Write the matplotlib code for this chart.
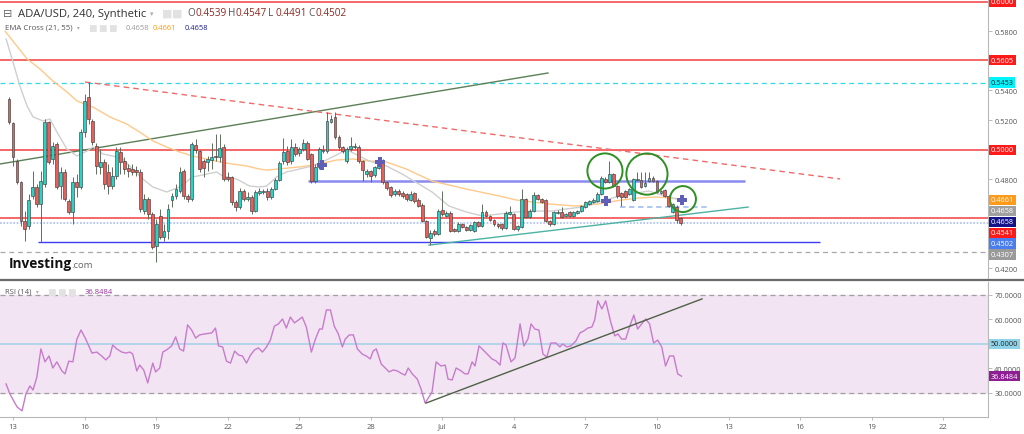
import matplotlib
matplotlib.use("Agg")
import matplotlib.pyplot as plt
import numpy as np

plt.rcParams['font.family'] = ['Open Sans', 'DejaVu Sans']

# ADA/USD 4h candles, first one 12 Jun 20:00 (x axis = days from 13 Jun)
opens = [0.5342, 0.5180, 0.4923, 0.4781, 0.4518, 0.4484, 0.4687, 0.4748, 0.4633, 0.4768,
         0.5187, 0.4937, 0.5038, 0.4754, 0.4849, 0.4653, 0.4579, 0.4781, 0.4748, 0.5119,
         0.5356, 0.5194, 0.5025, 0.4883, 0.4917, 0.4849, 0.4754, 0.4822, 0.4984, 0.4923,
         0.4876, 0.4869, 0.4862, 0.4849, 0.4585, 0.4666, 0.4565, 0.4349, 0.4552, 0.4410,
         0.4450, 0.4660, 0.4687, 0.4721, 0.4856, 0.4687, 0.4666, 0.5031, 0.4991, 0.4923,
         0.4917, 0.4930, 0.4957, 0.4950, 0.5018, 0.4815, 0.4815, 0.4646, 0.4612, 0.4721,
         0.4666, 0.4680, 0.4585, 0.4707, 0.4714, 0.4721, 0.4680, 0.4734, 0.4795, 0.4923,
         0.4991, 0.4923, 0.5018, 0.4977, 0.5004, 0.5045, 0.4971, 0.4788, 0.4883, 0.4991,
         0.4991, 0.5187, 0.5221, 0.5086, 0.5018, 0.4923, 0.5004, 0.5018, 0.5018, 0.4923,
         0.4835, 0.4856, 0.4829, 0.4876, 0.4910, 0.4781, 0.4748, 0.4700, 0.4721, 0.4707,
         0.4700, 0.4660, 0.4707, 0.4660, 0.4626, 0.4518, 0.4403, 0.4450, 0.4430, 0.4592,
         0.4552, 0.4572, 0.4464, 0.4450, 0.4497, 0.4477, 0.4457, 0.4450, 0.4511, 0.4484,
         0.4579, 0.4552, 0.4524, 0.4497, 0.4497, 0.4470, 0.4565, 0.4565, 0.4464, 0.4477,
         0.4666, 0.4545, 0.4585, 0.4693, 0.4666, 0.4660, 0.4518, 0.4497, 0.4572, 0.4579,
         0.4552, 0.4579, 0.4552, 0.4572, 0.4585, 0.4612, 0.4633, 0.4646, 0.4653, 0.4700,
         0.4802, 0.4781, 0.4835, 0.4754, 0.4707, 0.4721, 0.4700, 0.4660, 0.4795, 0.4795,
         0.4754, 0.4788, 0.4808, 0.4788, 0.4707, 0.4727, 0.4687, 0.4579, 0.4612, 0.4539]
highs = [0.5356, 0.5187, 0.4937, 0.4788, 0.4585, 0.4700, 0.4856, 0.4768, 0.4856, 0.5207,
         0.5194, 0.5052, 0.5052, 0.4883, 0.4869, 0.4666, 0.4815, 0.4835, 0.5140, 0.5376,
         0.5457, 0.5207, 0.5045, 0.5004, 0.4937, 0.4903, 0.4883, 0.5018, 0.5018, 0.4950,
         0.4903, 0.4903, 0.4890, 0.4869, 0.4700, 0.4680, 0.4579, 0.4531, 0.4599, 0.4497,
         0.4633, 0.4707, 0.4768, 0.4883, 0.4869, 0.4700, 0.5052, 0.5072, 0.4998, 0.4937,
         0.4957, 0.5045, 0.5106, 0.5106, 0.5038, 0.4849, 0.4822, 0.4660, 0.4741, 0.4734,
         0.4714, 0.4693, 0.4727, 0.4741, 0.4734, 0.4741, 0.4748, 0.4808, 0.4923, 0.5079,
         0.5025, 0.5072, 0.5045, 0.5018, 0.5072, 0.5059, 0.4977, 0.4903, 0.5018, 0.5031,
         0.5255, 0.5234, 0.5255, 0.5099, 0.5025, 0.5018, 0.5086, 0.5045, 0.5031, 0.4930,
         0.4869, 0.4862, 0.4890, 0.4917, 0.4937, 0.4788, 0.4754, 0.4734, 0.4734, 0.4721,
         0.4707, 0.4721, 0.4714, 0.4673, 0.4639, 0.4524, 0.4457, 0.4464, 0.4599, 0.4721,
         0.4585, 0.4585, 0.4470, 0.4511, 0.4504, 0.4484, 0.4497, 0.4518, 0.4518, 0.4633,
         0.4592, 0.4559, 0.4531, 0.4504, 0.4504, 0.4585, 0.4619, 0.4572, 0.4491, 0.4734,
         0.4673, 0.4599, 0.4714, 0.4700, 0.4673, 0.4666, 0.4524, 0.4585, 0.4592, 0.4612,
         0.4572, 0.4585, 0.4585, 0.4592, 0.4626, 0.4653, 0.4660, 0.4673, 0.4714, 0.4822,
         0.4815, 0.4923, 0.4842, 0.4761, 0.4714, 0.4727, 0.4741, 0.4808, 0.4849, 0.4849,
         0.4849, 0.4849, 0.4822, 0.4795, 0.4727, 0.4734, 0.4693, 0.4640, 0.4626, 0.4547]
lows = [0.5173, 0.4890, 0.4768, 0.4484, 0.4383, 0.4464, 0.4666, 0.4612, 0.4376, 0.4748,
        0.4903, 0.4903, 0.4734, 0.4666, 0.4653, 0.4565, 0.4497, 0.4680, 0.4734, 0.5086,
        0.5173, 0.5031, 0.4835, 0.4835, 0.4734, 0.4700, 0.4734, 0.4802, 0.4835, 0.4835,
        0.4815, 0.4829, 0.4822, 0.4579, 0.4565, 0.4531, 0.4328, 0.4241, 0.4396, 0.4383,
        0.4396, 0.4612, 0.4666, 0.4707, 0.4666, 0.4646, 0.4653, 0.4977, 0.4849, 0.4815,
        0.4856, 0.4869, 0.4923, 0.4917, 0.4788, 0.4788, 0.4626, 0.4585, 0.4599, 0.4653,
        0.4653, 0.4565, 0.4579, 0.4693, 0.4700, 0.4660, 0.4666, 0.4727, 0.4788, 0.4903,
        0.4897, 0.4903, 0.4957, 0.4957, 0.4991, 0.4930, 0.4775, 0.4775, 0.4869, 0.4977,
        0.4977, 0.5180, 0.5072, 0.4998, 0.4977, 0.4910, 0.4991, 0.5004, 0.4910, 0.4788,
        0.4815, 0.4781, 0.4815, 0.4869, 0.4768, 0.4727, 0.4680, 0.4687, 0.4687, 0.4673,
        0.4653, 0.4653, 0.4639, 0.4612, 0.4511, 0.4403, 0.4355, 0.4416, 0.4423, 0.4552,
        0.4545, 0.4443, 0.4443, 0.4443, 0.4470, 0.4450, 0.4450, 0.4443, 0.4477, 0.4477,
        0.4545, 0.4518, 0.4484, 0.4470, 0.4457, 0.4464, 0.4559, 0.4457, 0.4450, 0.4470,
        0.4538, 0.4538, 0.4579, 0.4660, 0.4639, 0.4511, 0.4484, 0.4491, 0.4565, 0.4538,
        0.4545, 0.4545, 0.4545, 0.4565, 0.4579, 0.4606, 0.4626, 0.4639, 0.4646, 0.4693,
        0.4775, 0.4775, 0.4748, 0.4673, 0.4619, 0.4673, 0.4693, 0.4653, 0.4788, 0.4741,
        0.4748, 0.4781, 0.4781, 0.4707, 0.4700, 0.4680, 0.4612, 0.4572, 0.4504, 0.4491]
closes = [0.5187, 0.4950, 0.4781, 0.4518, 0.4464, 0.4660, 0.4748, 0.4633, 0.4788, 0.5187,
          0.4917, 0.5025, 0.4748, 0.4849, 0.4666, 0.4579, 0.4781, 0.4748, 0.5119, 0.5329,
          0.5207, 0.5052, 0.4890, 0.4917, 0.4768, 0.4754, 0.4822, 0.4991, 0.4917, 0.4869,
          0.4856, 0.4849, 0.4849, 0.4599, 0.4666, 0.4565, 0.4342, 0.4497, 0.4410, 0.4450,
          0.4599, 0.4687, 0.4734, 0.4849, 0.4687, 0.4666, 0.5038, 0.4998, 0.4869, 0.4876,
          0.4937, 0.4950, 0.4950, 0.5011, 0.4802, 0.4802, 0.4646, 0.4612, 0.4721, 0.4666,
          0.4680, 0.4585, 0.4714, 0.4721, 0.4721, 0.4680, 0.4734, 0.4795, 0.4910, 0.4984,
          0.4917, 0.5018, 0.4971, 0.5004, 0.5045, 0.4937, 0.4788, 0.4883, 0.5004, 0.4998,
          0.5194, 0.5207, 0.5086, 0.5018, 0.4991, 0.5004, 0.5025, 0.5025, 0.4923, 0.4862,
          0.4856, 0.4822, 0.4883, 0.4903, 0.4781, 0.4741, 0.4693, 0.4721, 0.4700, 0.4687,
          0.4666, 0.4700, 0.4653, 0.4619, 0.4518, 0.4410, 0.4437, 0.4430, 0.4585, 0.4565,
          0.4572, 0.4450, 0.4450, 0.4497, 0.4477, 0.4457, 0.4491, 0.4511, 0.4484, 0.4579,
          0.4552, 0.4524, 0.4497, 0.4484, 0.4470, 0.4572, 0.4579, 0.4464, 0.4484, 0.4666,
          0.4545, 0.4585, 0.4693, 0.4666, 0.4646, 0.4518, 0.4497, 0.4579, 0.4579, 0.4545,
          0.4565, 0.4552, 0.4579, 0.4585, 0.4619, 0.4646, 0.4653, 0.4660, 0.4700, 0.4808,
          0.4781, 0.4835, 0.4754, 0.4687, 0.4680, 0.4680, 0.4734, 0.4802, 0.4802, 0.4748,
          0.4775, 0.4808, 0.4788, 0.4714, 0.4721, 0.4687, 0.4619, 0.4633, 0.4524, 0.4502]

# EMA cross (21, 55)
ema21_t = [-0.29, -0.04, 0.29, 0.59, 0.84, 1.26, 1.55, 1.84, 2.26, 2.68, 3.10, 3.35, 3.77,
           4.18, 4.60, 5.02, 5.44, 5.86, 6.44, 6.99, 7.53, 8.12, 8.54, 8.79, 9.37, 9.92,
           10.33, 10.63, 11.05, 11.46, 12.01, 12.55, 12.97, 13.39, 13.81, 14.10, 14.52,
           14.94, 15.65, 16.32, 17.57, 18.28, 19.00, 19.67, 20.38, 21.09, 21.76, 22.59,
           23.18, 23.85, 24.56, 25.27, 25.94, 26.65, 27.07, 27.62, 28.03]
ema21 = [0.5748, 0.5613, 0.5430, 0.5295, 0.5221, 0.5194, 0.5207, 0.5119, 0.5004, 0.4957,
         0.4991, 0.5018, 0.4971, 0.4957, 0.4937, 0.4869, 0.4802, 0.4748, 0.4714, 0.4748,
         0.4815, 0.4835, 0.4849, 0.4822, 0.4802, 0.4754, 0.4748, 0.4754, 0.4815, 0.4849,
         0.4869, 0.4890, 0.4917, 0.4950, 0.4984, 0.4991, 0.4957, 0.4923, 0.4890, 0.4835,
         0.4714, 0.4619, 0.4579, 0.4552, 0.4565, 0.4579, 0.4585, 0.4585, 0.4599, 0.4612,
         0.4646, 0.4680, 0.4700, 0.4721, 0.4700, 0.4673, 0.4660]
ema55_t = [-0.33, 0.59, 1.13, 1.67, 2.26, 2.68, 3.35, 4.06, 4.77, 5.31, 5.86, 6.44, 6.99,
           7.53, 8.12, 8.66, 9.21, 9.79, 10.33, 10.63, 12.01, 12.85, 13.56, 14.23, 14.94,
           15.65, 16.49, 17.57, 19.00, 20.38, 21.09, 22.47, 23.60, 24.56, 25.52, 26.23,
           26.95, 27.62, 28.03]
ema55 = [0.5800, 0.5613, 0.5545, 0.5464, 0.5390, 0.5329, 0.5288, 0.5221, 0.5173, 0.5119,
         0.5059, 0.5018, 0.4984, 0.4957, 0.4937, 0.4917, 0.4903, 0.4890, 0.4869, 0.4862,
         0.4883, 0.4903, 0.4930, 0.4937, 0.4923, 0.4917, 0.4869, 0.4788, 0.4734, 0.4687,
         0.4660, 0.4633, 0.4619, 0.4633, 0.4660, 0.4673, 0.4680, 0.4673, 0.4666]
cross_t = [12.97, 15.40, 24.85, 28.03]
cross_p = [0.4896, 0.4917, 0.4653, 0.4660]

# RSI (14)
rsi_t = [-0.29, -0.13, 0.17, 0.38, 0.54, 0.71, 0.84, 1.00, 1.17, 1.34,
         1.51, 1.67, 1.84, 2.05, 2.18, 2.34, 2.51, 2.68, 2.85, 3.05,
         3.31, 3.51, 3.72, 3.89, 4.06, 4.18, 4.35, 4.56, 4.73, 4.90,
         5.02, 5.19, 5.31, 5.48, 5.65, 5.86, 5.98, 6.15, 6.28, 6.44,
         6.65, 6.82, 6.99, 7.15, 7.32, 7.49, 7.66, 7.82, 8.03, 8.33,
         8.49, 8.62, 8.79, 8.95, 9.12, 9.29, 9.46, 9.62, 9.79, 9.96,
         10.13, 10.29, 10.46, 10.63, 10.79, 10.96, 11.13, 11.30, 11.46, 11.63,
         11.80, 11.97, 12.13, 12.30, 12.51, 12.68, 12.85, 12.97, 13.14, 13.31,
         13.47, 13.64, 13.81, 13.93, 14.10, 14.27, 14.44, 14.64, 14.81, 14.98,
         15.10, 15.23, 15.44, 15.61, 15.77, 15.94, 16.11, 16.32, 16.44, 16.57,
         16.74, 16.95, 17.11, 17.28, 17.57, 17.74, 17.95, 18.12, 18.24, 18.41,
         18.58, 18.79, 18.95, 19.08, 19.25, 19.37, 19.54, 19.71, 19.92, 20.08,
         20.25, 20.42, 20.54, 20.67, 20.88, 21.05, 21.26, 21.42, 21.59, 21.72,
         21.88, 22.05, 22.22, 22.38, 22.55, 22.76, 22.93, 23.05, 23.22, 23.39,
         23.60, 23.77, 23.93, 24.10, 24.27, 24.39, 24.52, 24.69, 24.85, 25.06,
         25.23, 25.36, 25.52, 25.69, 25.86, 26.03, 26.19, 26.36, 26.53, 26.69,
         26.86, 27.03, 27.20, 27.36, 27.53, 27.70, 27.87, 28.03]
rsi = [33.7, 29.6, 24.3, 22.7, 29.6, 32.9, 31.2, 36.5, 48.0, 42.7,
       45.1, 40.2, 42.7, 39.0, 37.8, 43.0, 42.7, 52.0, 55.7, 52.0,
       46.3, 46.7, 45.1, 43.5, 45.1, 49.6, 48.0, 46.7, 46.3, 46.7,
       45.9, 39.0, 41.4, 39.4, 34.1, 42.2, 38.6, 40.2, 46.7, 47.6,
       49.2, 52.9, 48.0, 47.1, 57.8, 55.7, 52.4, 53.7, 54.1, 54.5,
       56.5, 49.2, 48.8, 43.0, 42.2, 47.1, 45.5, 45.1, 42.2, 45.5,
       47.6, 48.4, 46.7, 48.8, 51.6, 57.3, 58.2, 60.2, 56.5, 61.0,
       58.6, 59.8, 61.0, 56.9, 46.7, 52.0, 56.1, 56.1, 63.9, 63.9,
       57.3, 54.1, 48.8, 52.0, 53.7, 53.7, 48.0, 45.9, 45.1, 43.9,
       47.1, 48.0, 41.8, 40.2, 38.6, 39.4, 39.0, 37.8, 37.3, 40.2,
       37.8, 35.7, 31.6, 25.9, 30.4, 42.7, 41.0, 41.4, 35.7, 35.3,
       40.2, 39.0, 37.8, 37.8, 42.7, 41.0, 49.2, 47.6, 45.5, 43.9,
       43.1, 41.4, 50.4, 49.6, 42.7, 44.3, 58.2, 49.2, 52.0, 58.2,
       56.1, 55.7, 45.9, 44.7, 50.4, 50.4, 48.8, 50.0, 48.8, 49.2,
       51.2, 54.5, 55.3, 56.5, 56.9, 59.8, 67.6, 64.3, 67.6, 59.0,
       53.3, 54.1, 52.0, 52.0, 57.3, 61.8, 56.1, 58.2, 60.2, 58.2,
       50.4, 51.6, 48.8, 41.0, 45.1, 45.1, 37.8, 36.85]

# drawn objects (trend lines, levels, circles)
red_levels = [0.6000, 0.5605, 0.5000, 0.4541]
upper_trend_t, upper_trend_p = [-0.55, 22.43], [0.4903, 0.5518]
falling_t, falling_p = [3.02, 34.68], [0.5457, 0.4802]
rising_t, rising_p = [17.44, 30.82], [0.4355, 0.4612]
rsi_trend_t, rsi_trend_v = [17.32, 28.89], [25.9, 68.4]
circle_t = [24.82, 26.58, 28.09]
circle_p = [0.4856, 0.4835, 0.4666]
circle_size = [640, 880, 350]

date_ticks = [0, 3, 6, 9, 12, 15, 18, 21, 24, 27, 30, 33, 36, 39]
date_labels = ['13', '16', '19', '22', '25', '28', 'Jul', '4', '7', '10', '13', '16', '19', '22']

W, H = 1024, 435
fig = plt.figure(figsize=(W / 100, H / 100), dpi=100)
fig.patch.set_facecolor('white')
ax = fig.add_axes([0, 1 - 280 / H, 988 / W, 280 / H])
ar = fig.add_axes([0, 1 - 418 / H, 988 / W, 135 / H], sharex=ax)

xlim = (-0.545, 40.88)
ax.set_xlim(*xlim)
ax.set_ylim(0.4126, 0.6018)
ar.set_ylim(20.2, 75.3)

# levels
for lv in red_levels:
    ax.axhline(lv, color='#f23d3d', lw=1.1, zorder=2)
ax.axhline(0.5453, color='#30d8e8', lw=0.9, ls=(0, (4, 3)), zorder=2)
ax.axhline(0.4307, color='#a8a8a8', lw=0.9, ls=(0, (4, 3)), zorder=2)
ax.axhline(0.4502, color='#a9bdf0', lw=1.2, ls=(0, (1, 1)), zorder=2)
ax.hlines(0.4376, 1.05, 33.84, color='#3c3cf0', lw=1.0, zorder=2)
ax.hlines(0.4790, 12.37, 30.69, color='#8a8af0', lw=1.8, zorder=2)
ax.hlines(0.4614, 25.45, 29.14, color='#a9c4f0', lw=1.3, ls=(0, (3, 2)), zorder=2)
ax.plot(upper_trend_t, upper_trend_p, color='#5b7f56', lw=1.0, zorder=2)
ax.plot(falling_t, falling_p, color='#f06a6a', lw=1.0, ls=(0, (4, 3)), zorder=2)
ax.plot(rising_t, rising_p, color='#4cb3a2', lw=1.0, zorder=2)

# EMAs
ax.plot(ema55_t, ema55, color='#ffc98a', lw=1.0, zorder=2.5)
ax.plot(ema21_t, ema21, color='#cfcfcf', lw=1.0, zorder=2.5)

# candles
o = np.array(opens)
hi = np.array(highs)
lo = np.array(lows)
c = np.array(closes)
t = np.arange(len(c)) / 6 - 1 / 6
up = c >= o
ax.vlines(t, lo, hi, color='#5e6e5e', lw=0.7, zorder=3)
ax.bar(t, np.maximum(np.abs(c - o), 0.0004), bottom=np.minimum(o, c), width=0.12,
       color=np.where(up, '#27d3c3', '#ec5d57'), edgecolor='#3f3f3f', linewidth=0.45,
       zorder=4)

ax.scatter(cross_t, cross_p, marker='P', s=55, color='#5f5fb8', zorder=5, linewidths=0)
ax.scatter(circle_t, circle_p, s=circle_size, facecolors='none', edgecolors='#2f8f24',
           linewidths=1.4, zorder=6)

# RSI pane
ar.axhspan(30, 70, color='#f2e4f2', zorder=0)
ar.axhline(70, color='#a0a0a0', lw=0.9, ls=(0, (4, 3)))
ar.axhline(30, color='#a0a0a0', lw=0.9, ls=(0, (4, 3)))
ar.axhline(50, color='#a8d2e6', lw=1.2)
ar.plot(rsi_t, rsi, color='#c77bcc', lw=1.0, zorder=3)
ar.plot(rsi_trend_t, rsi_trend_v, color='#4f6146', lw=1.0, zorder=4)

for a in (ax, ar):
    for s in ('top', 'left', 'bottom'):
        a.spines[s].set_visible(False)
    a.spines['right'].set_color('#b8b8b8')
    a.yaxis.tick_right()
    a.tick_params(axis='y', labelsize=5.3, colors='#b0b0b0', labelcolor='#555555',
                  length=3, width=0.6, pad=1.5)
ar.spines['bottom'].set_visible(True)
ar.spines['bottom'].set_color('#b8b8b8')

ax.set_yticks([0.42, 0.48, 0.52, 0.54, 0.58])
ax.set_yticklabels(['%.4f' % v for v in [0.42, 0.48, 0.52, 0.54, 0.58]])
ar.set_yticks([30, 40, 60, 70])
ar.set_yticklabels(['%.4f' % v for v in [30, 40, 60, 70]])
ax.tick_params(axis='x', bottom=False, labelbottom=False)
ar.set_xticks(date_ticks)
ar.set_xticklabels(date_labels)
ar.tick_params(axis='x', labelsize=5.5, colors='#b0b0b0', labelcolor='#555555', length=2,
               width=0.6, pad=2)
ax.set_xlim(*xlim)

# right-hand value boxes, stacked so they do not overlap
def boxes(a, items, gap):
    prev = None
    for val, txt, fc, tc in sorted(items, key=lambda r: -r[0]):
        pos = val if prev is None else min(val, prev - gap)
        prev = pos
        a.text(1.003, pos, txt, transform=a.get_yaxis_transform(), ha='left', va='center',
               fontsize=5.3, color=tc, clip_on=False,
               bbox=dict(boxstyle='square,pad=0.22', fc=fc, ec='none'))

boxes(ax, [(0.6000, '0.6000', '#ff1a1a', 'white'),
           (0.5605, '0.5605', '#ff1a1a', 'white'),
           (0.5453, '0.5453', '#00f5ff', '#222222'),
           (0.5000, '0.5000', '#ff1a1a', 'white')], 0.0074)
boxes(ax, [(0.46612, '0.4661', '#ff9a1a', 'white'),
           (0.46581, '0.4658', '#a0a0a0', 'white'),
           (0.46580, '0.4658', '#14148a', 'white'),
           (0.4541, '0.4541', '#ff1a1a', 'white'),
           (0.4502, '0.4502', '#4a7df0', 'white'),
           (0.4307, '0.4307', '#9a9a9a', 'white')], 0.0074)
boxes(ar, [(50.0, '50.0000', '#8fd3e8', '#222222'),
           (36.8484, '36.8484', '#8e1f93', 'white')], 4.0)

# pane separator
fig.add_artist(plt.Line2D([0, 1], [1 - 281 / H] * 2, transform=fig.transFigure,
                          color='#6a6a6a', lw=1.6))

def ftxt(x, y, s, **kw):
    fig.text(x / W, 1 - y / H, s, va='center', ha='left', **kw)

# header, price pane
ftxt(3, 14, '\u229f', fontsize=8, color='#666666', family='DejaVu Sans')
ftxt(18, 14, 'ADA/USD, 240, Synthetic', fontsize=8.1, color='#333333')
ftxt(150, 14, '\u25be', fontsize=5, color='#aaaaaa', family='DejaVu Sans')
for xx in (162, 172):
    ftxt(xx, 14, '\u25a0', fontsize=8, color='#e2e2e2', family='DejaVu Sans')
for xx, k, v in [(187, 'O', '0.4539'), (228, 'H', '0.4547'), (268, 'L', '0.4491'),
                 (308, 'C', '0.4502')]:
    ftxt(xx, 14, k, fontsize=7.2, color='#555555')
    ftxt(xx + 8, 14, v, fontsize=7.2, color='#8f2a22')

ftxt(5, 28, 'EMA Cross (21, 55)', fontsize=5.7, color='#555555')
ftxt(77, 28, '\u25be', fontsize=4, color='#aaaaaa', family='DejaVu Sans')
for xx in (88, 98, 108):
    ftxt(xx, 28, '\u25a0', fontsize=6.5, color='#e2e2e2', family='DejaVu Sans')
ftxt(126, 28, '0.4658', fontsize=5.4, color='#9a9a9a')
ftxt(153, 28, '0.4661', fontsize=5.4, color='#ff9800')
ftxt(185, 28, '0.4658', fontsize=5.4, color='#1a1a8c')

# header, RSI pane
ftxt(5, 292, 'RSI (14)', fontsize=5.5, color='#555555')
ftxt(36, 292, '\u25be', fontsize=4, color='#aaaaaa', family='DejaVu Sans')
for xx in (47, 57, 67):
    ftxt(xx, 292, '\u25a0', fontsize=6.5, color='#e2e2e2', family='DejaVu Sans')
ftxt(85, 292, '36.8484', fontsize=5.5, color='#9b2fa0')

# watermark
ftxt(9, 264, 'Investing', fontsize=9.8, color='#111111', weight='bold')
ftxt(71, 266, '.com', fontsize=6.8, color='#666666')

fig.savefig('out.png', dpi=100, facecolor='white')
